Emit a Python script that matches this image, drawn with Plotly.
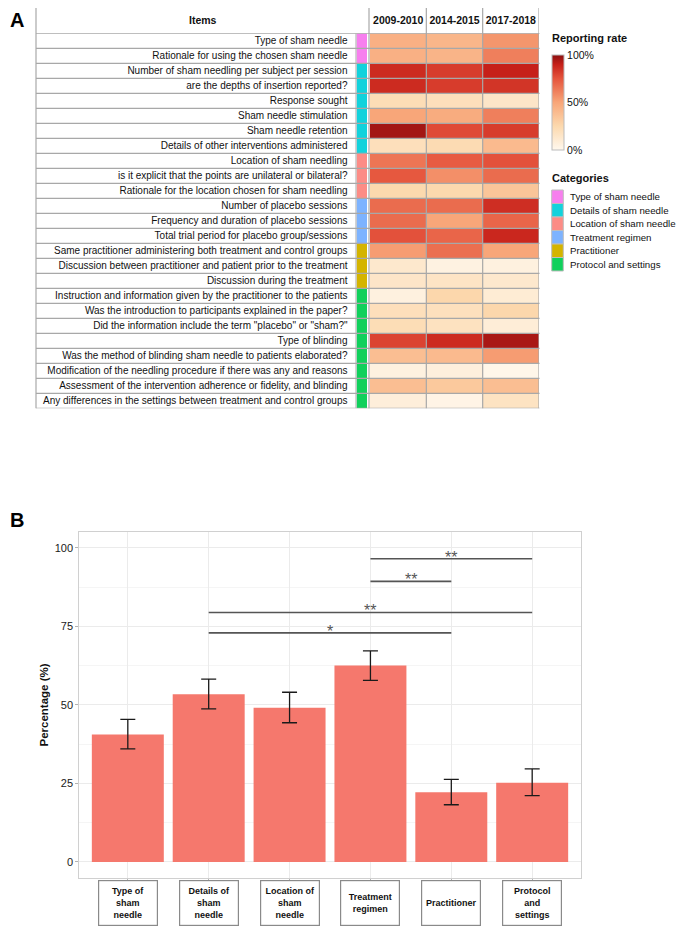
import plotly.graph_objects as go

# The page body adds an 8px margin; reference pixel coordinates are mapped accordingly.
OFF = 8
W, H = 685 - OFF, 932 - OFF
FONT = "Liberation Sans, Arial, Helvetica, sans-serif"

# ---------------- Panel A data ----------------
items = [
    "Type of sham needle",
    "Rationale for using the chosen sham needle",
    "Number of sham needling per subject per session",
    "are the depths of insertion reported?",
    "Response sought",
    "Sham needle stimulation",
    "Sham needle retention",
    "Details of other interventions administered",
    "Location of sham needling",
    "is it explicit that the points are unilateral or bilateral?",
    "Rationale for the location chosen for sham needling",
    "Number of placebo sessions",
    "Frequency and duration of placebo sessions",
    "Total trial period for placebo group/sessions",
    "Same practitioner administering both treatment and control groups",
    "Discussion between practitioner and patient prior to the treatment",
    "Discussion during the treatment",
    "Instruction and information given by the practitioner to the patients",
    "Was the introduction to participants explained in the paper?",
    "Did the information include the term \"placebo\" or \"sham?\"",
    "Type of blinding",
    "Was the method of blinding sham needle to patients elaborated?",
    "Modification of the needling procedure if there was any and reasons",
    "Assessment of the intervention adherence or fidelity, and blinding",
    "Any differences in the settings between treatment and control groups",
]
item_category = [0, 0, 1, 1, 1, 1, 1, 1, 2, 2, 2, 3, 3, 3, 4, 4, 4, 5, 5, 5, 5, 5, 5, 5, 5]

category_names = ["Type of sham needle", "Details of sham needle", "Location of sham needle",
                  "Treatment regimen", "Practitioner", "Protocol and settings"]
category_colors = ["#F77FEE", "#12D2DC", "#FC8C86", "#7DB3FF", "#D4B400", "#10D05C"]

periods = ["2009-2010", "2014-2015", "2017-2018"]
rate_2009 = [0.45, 0.45, 0.87, 0.87, 0.22, 0.50, 0.96, 0.20, 0.65, 0.74, 0.25, 0.68, 0.68, 0.76,
             0.53, 0.13, 0.15, 0.06, 0.20, 0.22, 0.80, 0.38, 0.06, 0.38, 0.08]
rate_2014 = [0.42, 0.43, 0.82, 0.82, 0.20, 0.47, 0.78, 0.23, 0.73, 0.57, 0.25, 0.68, 0.50, 0.70,
             0.67, 0.05, 0.16, 0.26, 0.19, 0.18, 0.87, 0.40, 0.07, 0.33, 0.03]
rate_2017 = [0.55, 0.62, 0.90, 0.84, 0.15, 0.62, 0.82, 0.40, 0.76, 0.68, 0.35, 0.86, 0.70, 0.88,
             0.50, 0.06, 0.13, 0.10, 0.26, 0.09, 0.95, 0.53, 0.02, 0.38, 0.17]

rate_ticks = [0, 0.5, 1]
rate_tick_text = ["0%", "50%", "100%"]

# ---------------- Panel B data ----------------
bar_categories = ["Type of sham needle", "Details of sham needle", "Location of sham needle",
                  "Treatment regimen", "Practitioner", "Protocol and settings"]
bar_labels = ["Type of<br>sham<br>needle", "Details of<br>sham<br>needle", "Location of<br>sham<br>needle",
              "Treatment<br>regimen", "Practitioner", "Protocol<br>and<br>settings"]
bar_values = [40.6, 53.4, 49.1, 62.5, 22.2, 25.2]
ci_high = [45.4, 58.2, 54.0, 67.2, 26.3, 29.6]
ci_low = [36.0, 48.7, 44.3, 57.8, 18.2, 21.1]

sig_from = [1, 1, 3, 3]
sig_to = [4, 5, 4, 5]
sig_height = [72.9, 79.4, 89.3, 96.5]
sig_label = ["*", "**", "**", "**"]

y_ticks = [0, 25, 50, 75, 100]


def px(x):
    return (x - OFF) / W


def py(y):
    return 1 - (y - OFF) / H


heat_scale = [
    [0.0, "#FFF8EE"],
    [0.25, "#FCD9AE"],
    [0.5, "#F8A679"],
    [0.75, "#E5553D"],
    [0.9, "#C62019"],
    [1.0, "#8C1010"],
]

fig = go.Figure()

# ---------- Panel A: heatmap ----------
z = [[rate_2009[i], rate_2014[i], rate_2017[i]] for i in range(len(items))]
fig.add_trace(go.Heatmap(
    z=z, x=periods, y=list(range(len(items))),
    xaxis="x2", yaxis="y2",
    colorscale=heat_scale, zmin=0, zmax=1,
    colorbar=dict(
        x=px(551.5), xanchor="left", xpad=0,
        y=py(55), yanchor="top", ypad=0,
        len=95 / H, lenmode="fraction", thickness=11.5,
        outlinecolor="#BBBBBB", outlinewidth=1,
        tickvals=rate_ticks, ticktext=rate_tick_text, ticks="",
        tickfont=dict(size=10.5, color="#111111", family=FONT),
    ),
    hoverinfo="skip",
))

# category stripe
nc = len(category_colors)
stripe_scale = []
for k, c in enumerate(category_colors):
    lo = max(0.0, (k - 0.5) / (nc - 1))
    hi = min(1.0, (k + 0.5) / (nc - 1))
    stripe_scale.append([lo, c])
    stripe_scale.append([hi, c])
fig.add_trace(go.Heatmap(
    z=[[c] for c in item_category], x=["cat"], y=list(range(len(items))),
    xaxis="x3", yaxis="y2",
    colorscale=stripe_scale, zmin=0, zmax=nc - 1, showscale=False,
    hoverinfo="skip",
))

# ---------- Panel B: bars ----------
fig.add_trace(go.Bar(
    x=bar_categories, y=bar_values, xaxis="x", yaxis="y",
    width=0.89,
    marker=dict(color="#F5786D", line=dict(width=0)),
    error_y=dict(type="data", symmetric=False,
                 array=[h - v for h, v in zip(ci_high, bar_values)],
                 arrayminus=[v - l for v, l in zip(bar_values, ci_low)],
                 color="#1A1A1A", thickness=1.3, width=7.5),
    showlegend=False, hoverinfo="skip",
))

shapes = []
annotations = []
grid_col = "#A8A8A8"

# table horizontal lines
top_hdr = py(7.3)
bottom_rows = py(408.3)
shapes.append(dict(type="line", xref="paper", yref="paper", x0=px(36), x1=px(539.5),
                   y0=top_hdr, y1=top_hdr, line=dict(color=grid_col, width=1.2)))
for i in range(len(items) + 1):
    yv = i - 0.5
    shapes.append(dict(type="line", xref="paper", yref="y2", x0=px(36), x1=px(539.5),
                       y0=yv, y1=yv, line=dict(color=grid_col, width=1.2), layer="above"))
# vertical lines
for xp in [36, 369]:
    shapes.append(dict(type="line", xref="paper", yref="paper", x0=px(xp), x1=px(xp),
                       y0=top_hdr, y1=bottom_rows, line=dict(color=grid_col, width=1.2)))
shapes.append(dict(type="line", xref="paper", yref="y2", x0=px(356), x1=px(356),
                   y0=-0.5, y1=len(items) - 0.5, line=dict(color=grid_col, width=1)))
for xv in [0.5, 1.5, 2.5]:
    shapes.append(dict(type="line", xref="x2", yref="paper", x0=xv, x1=xv,
                       y0=top_hdr, y1=bottom_rows, line=dict(color=grid_col, width=1.2), layer="above"))

annotations.append(dict(text="<b>Items</b>", xref="paper", yref="paper", x=px(203), y=py(20.5),
                        xanchor="center", yanchor="middle", showarrow=False,
                        font=dict(size=10.5, color="#111111")))

# legends
annotations.append(dict(text="<b>Reporting rate</b>", xref="paper", yref="paper", x=px(550), y=py(38),
                        xanchor="left", yanchor="middle", showarrow=False,
                        font=dict(size=11, color="#111111")))
annotations.append(dict(text="<b>Categories</b>", xref="paper", yref="paper", x=px(550), y=py(178),
                        xanchor="left", yanchor="middle", showarrow=False,
                        font=dict(size=11, color="#111111")))
key_h = 13.5
for k, (name, col) in enumerate(zip(category_names, category_colors)):
    y0 = 190 + key_h * k
    shapes.append(dict(type="rect", xref="paper", yref="paper", x0=px(551.7), x1=px(563.3),
                       y0=py(y0), y1=py(y0 + key_h), fillcolor=col,
                       line=dict(color="#BDBDBD", width=1)))
    annotations.append(dict(text=name, xref="paper", yref="paper", x=px(568), y=py(y0 + key_h / 2),
                            xanchor="left", yanchor="middle", showarrow=False,
                            font=dict(size=9.7, color="#111111")))

# panel letters
annotations.append(dict(text="<b>A</b>", xref="paper", yref="paper", x=px(8), y=py(20),
                        xanchor="left", yanchor="middle", showarrow=False,
                        font=dict(size=20, color="#000000")))
annotations.append(dict(text="<b>B</b>", xref="paper", yref="paper", x=px(8), y=py(520),
                        xanchor="left", yanchor="middle", showarrow=False,
                        font=dict(size=20, color="#000000")))

# significance brackets
for a, b, h, lab in zip(sig_from, sig_to, sig_height, sig_label):
    shapes.append(dict(type="line", xref="x", yref="y", x0=a, x1=b, y0=h, y1=h,
                       line=dict(color="#555555", width=1.6)))
    annotations.append(dict(text=lab, xref="x", yref="y", x=(a + b) / 2, y=h,
                            xanchor="center", yanchor="bottom", yshift=-9, showarrow=False,
                            font=dict(size=16, color="#555555")))

# x label boxes
for cat, lab in zip(bar_categories, bar_labels):
    annotations.append(dict(text="<b>" + lab + "</b>", xref="x", yref="paper", x=cat, y=py(903),
                            xanchor="center", yanchor="middle", showarrow=False, width=56, height=42,
                            bordercolor="#8A8A8A", borderwidth=1.2, borderpad=1, bgcolor="white",
                            font=dict(size=9, color="#111111")))

fig.update_layout(
    width=W, height=H, autosize=False,
    margin=dict(l=0, r=0, t=0, b=0),
    paper_bgcolor="white", plot_bgcolor="white",
    font=dict(family=FONT, color="#111111"),
    showlegend=False,
    shapes=shapes, annotations=annotations,
    xaxis=dict(domain=[px(79.3), px(580.7)], anchor="y", range=[-0.6, 5.6],
               showticklabels=False, showgrid=True, gridcolor="#EBEBEB", gridwidth=1,
               ticks="outside", ticklen=3, tickcolor="#B3B3B3",
               showline=True, mirror=True, linecolor="#D0D0D0", linewidth=1, zeroline=False),
    yaxis=dict(domain=[py(878.3), py(531.7)], anchor="x", range=[-5.2, 105.1],
               tickvals=y_ticks, showgrid=True, gridcolor="#EBEBEB", gridwidth=1,
               minor=dict(tickvals=[12.5, 37.5, 62.5, 87.5], showgrid=True, gridcolor="#F5F5F5"),
               ticks="outside", ticklen=3, tickcolor="#B3B3B3",
               tickfont=dict(size=11, color="#1A1A1A"),
               showline=True, mirror=True, linecolor="#D0D0D0", linewidth=1, zeroline=False,
               title=dict(text="<b>Percentage (%)</b>", font=dict(size=11.5, color="#111111"), standoff=3)),
    xaxis2=dict(domain=[px(370), px(539)], anchor="y2", side="top", range=[-0.5, 2.5],
                showgrid=False, zeroline=False, ticks="", ticklabelstandoff=6,
                tickfont=dict(size=10.5, color="#111111"), tickprefix="<b>", ticksuffix="</b>"),
    xaxis3=dict(domain=[px(356.5), px(367)], anchor="y2", showticklabels=False,
                showgrid=False, zeroline=False, ticks=""),
    yaxis2=dict(domain=[py(408.3), py(33.3)], anchor="x3", range=[len(items) - 0.5, -0.5],
                tickvals=list(range(len(items))), ticktext=items,
                showgrid=False, zeroline=False, ticks="", ticklabelstandoff=8,
                tickfont=dict(size=10, color="#111111")),
)

fig.write_html("out.html")
